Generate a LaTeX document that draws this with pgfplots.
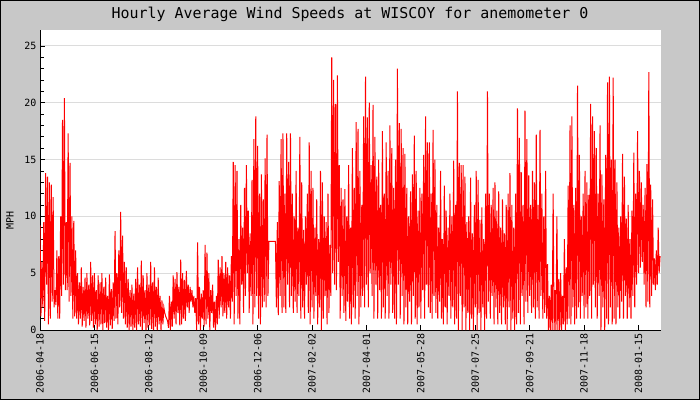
\documentclass[border=0pt]{standalone}
\usepackage{pgfplots}
\usepackage{pgfplotstable}
\usepackage{fontspec}
\setmainfont{DejaVu Sans Mono}
\pgfplotsset{compat=1.18}
\definecolor{bggray}{RGB}{200,200,200}
\definecolor{gridgray}{RGB}{220,220,220}
\pgfplotstableread[row sep=\\]{
y\\
9.2\\1.2\\6.0\\2.0\\9.5\\0.8\\13.8\\4.0\\13.5\\0.5\\
13.0\\1.0\\12.8\\2.5\\11.7\\2.0\\3.5\\2.2\\7.0\\1.0\\
6.5\\1.0\\10.0\\3.0\\18.5\\4.0\\20.4\\3.5\\9.5\\3.5\\
17.3\\2.5\\14.7\\3.0\\10.0\\1.0\\9.6\\1.2\\7.0\\1.0\\
5.0\\0.5\\4.2\\1.0\\5.5\\0.3\\3.8\\0.8\\4.6\\0.2\\
5.0\\1.0\\4.0\\0.4\\6.0\\0.8\\4.8\\0.2\\5.0\\0.5\\
3.5\\0.0\\4.8\\0.3\\4.2\\0.5\\5.0\\0.0\\3.8\\0.6\\
4.6\\0.2\\3.0\\0.0\\4.9\\0.4\\3.6\\0.1\\4.2\\0.8\\
8.7\\1.0\\5.0\\0.5\\7.0\\2.0\\10.4\\1.5\\8.3\\1.0\\
6.0\\0.5\\5.5\\0.2\\4.5\\0.0\\3.5\\0.3\\4.0\\0.0\\
3.2\\0.2\\4.5\\0.0\\5.5\\0.5\\4.0\\0.3\\6.1\\0.0\\
4.8\\0.6\\3.5\\0.0\\5.0\\0.2\\4.0\\0.4\\6.0\\0.1\\
4.2\\0.0\\5.5\\0.3\\3.8\\0.0\\4.6\\0.5\\3.0\\0.0\\
2.6\\0.5\\2.0\\1.5\\1.2\\1.0\\0.8\\0.2\\3.0\\0.0\\
2.5\\0.3\\4.8\\1.0\\4.5\\0.5\\5.1\\1.5\\3.8\\0.4\\
6.2\\0.5\\5.0\\1.0\\4.4\\0.8\\5.2\\2.0\\4.0\\1.5\\
3.8\\2.5\\3.5\\2.0\\3.0\\1.5\\2.8\\0.0\\7.7\\0.5\\
3.8\\0.0\\3.2\\1.0\\3.5\\0.3\\7.5\\0.5\\6.8\\1.0\\
5.0\\0.0\\3.5\\1.5\\4.0\\0.2\\2.5\\0.0\\3.0\\0.5\\
6.2\\1.0\\5.5\\2.0\\6.5\\1.2\\5.0\\1.5\\6.0\\1.0\\
5.5\\2.0\\4.8\\1.0\\6.5\\2.5\\14.8\\0.5\\14.5\\3.0\\
14.0\\1.0\\8.0\\0.5\\11.0\\4.0\\9.0\\1.5\\12.5\\3.0\\
14.5\\5.0\\10.5\\1.5\\8.5\\3.0\\13.2\\0.5\\16.8\\2.0\\
18.8\\3.0\\16.2\\1.0\\12.0\\0.5\\13.7\\2.0\\11.5\\2.5\\
15.1\\2.0\\17.2\\3.0\\7.8\\7.8\\7.8\\7.8\\7.8\\7.8\\
7.8\\7.8\\2.0\\9.5\\1.3\\13.1\\3.0\\16.8\\1.5\\17.3\\
2.0\\12.0\\1.5\\17.3\\4.0\\14.8\\2.0\\17.3\\3.0\\12.0\\
1.5\\10.0\\2.5\\14.0\\1.5\\9.0\\3.0\\17.0\\1.0\\13.0\\
2.0\\8.8\\1.0\\10.0\\4.0\\12.0\\1.5\\16.5\\0.5\\14.0\\
2.0\\12.5\\1.0\\9.0\\3.0\\11.5\\0.5\\8.0\\2.0\\14.0\\
0.0\\13.0\\1.0\\10.0\\3.0\\9.5\\0.5\\12.0\\1.5\\7.5\\
3.0\\24.0\\5.0\\22.0\\4.0\\19.9\\3.5\\22.4\\6.0\\14.5\\
1.0\\12.5\\3.0\\11.5\\1.5\\12.4\\0.8\\10.0\\2.5\\14.5\\
1.0\\9.0\\0.5\\16.0\\2.0\\12.5\\1.0\\18.3\\3.0\\17.7\\
0.5\\14.0\\2.0\\11.0\\3.0\\18.8\\2.0\\22.3\\4.0\\18.7\\
2.0\\20.0\\5.0\\14.5\\3.0\\19.8\\1.0\\17.0\\4.0\\13.5\\
1.0\\15.0\\3.5\\11.0\\1.0\\17.5\\2.0\\12.0\\1.0\\16.5\\
3.0\\14.0\\1.0\\18.0\\4.0\\16.0\\1.5\\12.5\\1.0\\15.0\\
0.5\\23.0\\4.0\\18.2\\1.0\\17.7\\3.0\\16.0\\0.5\\15.5\\
2.0\\12.5\\0.5\\10.0\\2.5\\12.2\\0.5\\13.7\\3.0\\17.1\\
1.0\\14.0\\0.5\\10.5\\2.0\\12.5\\1.0\\12.0\\3.5\\15.4\\
1.0\\18.8\\4.0\\16.5\\2.0\\16.5\\1.5\\12.0\\1.0\\17.6\\
3.0\\15.0\\1.5\\11.0\\1.0\\9.0\\2.5\\14.0\\1.0\\8.0\\
0.5\\12.7\\2.0\\10.5\\0.5\\9.0\\3.0\\12.0\\1.0\\10.0\\
2.0\\14.9\\0.5\\11.0\\1.0\\21.0\\0.0\\14.7\\3.0\\14.5\\
0.0\\14.5\\2.0\\13.5\\0.0\\9.5\\1.5\\10.0\\0.0\\13.4\\
1.0\\8.5\\0.0\\11.0\\2.0\\14.0\\0.0\\13.2\\1.5\\9.7\\
0.0\\10.8\\2.0\\8.0\\0.0\\12.0\\1.0\\21.0\\2.5\\12.0\\
1.0\\11.0\\3.0\\12.5\\0.5\\13.0\\2.0\\10.5\\0.5\\12.2\\
1.5\\9.0\\0.5\\11.5\\2.0\\8.5\\0.5\\11.0\\0.0\\12.0\\
2.0\\13.8\\0.0\\11.0\\1.0\\9.0\\0.0\\12.0\\0.5\\19.5\\
1.5\\16.9\\0.5\\13.9\\3.0\\11.0\\0.5\\19.3\\2.5\\16.8\\
1.5\\13.6\\3.0\\11.0\\1.5\\14.0\\2.0\\13.0\\1.0\\17.2\\
2.0\\11.0\\1.0\\17.6\\3.0\\12.0\\1.0\\10.0\\1.5\\14.0\\
1.0\\5.8\\0.0\\3.0\\0.0\\4.0\\0.0\\12.0\\0.0\\3.5\\
0.0\\10.0\\0.0\\4.5\\0.0\\5.0\\0.0\\3.0\\0.5\\8.0\\
0.0\\5.5\\0.5\\12.7\\1.0\\18.0\\0.5\\18.8\\2.0\\11.0\\
0.5\\12.5\\1.0\\21.5\\2.0\\15.4\\1.0\\10.0\\3.0\\12.0\\
1.0\\14.0\\2.0\\13.0\\1.0\\11.9\\3.0\\19.9\\1.0\\18.8\\
4.0\\17.5\\2.0\\16.0\\1.0\\12.0\\3.0\\18.0\\0.0\\13.7\\
2.0\\11.5\\0.0\\15.4\\1.0\\21.8\\0.5\\22.3\\2.0\\15.0\\
0.5\\22.2\\1.0\\15.0\\0.5\\13.0\\2.0\\9.0\\1.0\\10.0\\
2.5\\15.5\\1.0\\13.5\\3.0\\9.8\\1.0\\11.0\\2.0\\8.0\\
1.0\\10.5\\3.0\\15.6\\2.0\\12.0\\4.0\\17.5\\5.0\\14.0\\
5.5\\13.0\\6.0\\11.0\\4.0\\12.5\\2.0\\14.6\\2.5\\22.7\\
2.0\\12.8\\3.0\\11.5\\4.0\\6.3\\3.5\\7.0\\4.0\\9.0\\
5.0\\6.5\\
}\winddata
\begin{document}
\begin{tikzpicture}[x=1bp,y=1bp]
\fill[bggray] (0,0) rectangle (700,400);
\draw[black,line width=1bp] (0.5,0.5) rectangle (699.5,399.5);
\node[font=\fontsize{15}{15}\selectfont] at (350,386) {Hourly Average Wind Speeds at WISCOY for anemometer 0};
\node[rotate=90, font=\fontsize{10}{10}\selectfont] at (10,180) {MPH};
\begin{axis}[
  at={(40bp,70bp)}, anchor=south west,
  scale only axis, width=621bp, height=300bp,
  xmin=0, xmax=662, ymin=0, ymax=26.4,
  axis background/.style={fill=white},
  axis x line*=bottom, axis y line*=left,
  axis line style={black, line width=1bp},
  /pgf/number format/assume math mode=true,
  tick align=inside,
  major tick length=5bp, minor tick length=4bp,
  tick style={black, line width=0.8bp},
  ytick={0,5,10,15,20,25},
  minor y tick num=4,
  ymajorgrids,
  major grid style={gridgray, line width=1bp},
  xtick={0,58,116,174,232,290,348,406,464,522,580,638},
  xticklabels={2006-04-18,2006-06-15,2006-08-12,2006-10-09,2006-12-06,2007-02-02,2007-04-01,2007-05-28,2007-07-25,2007-09-21,2007-11-18,2008-01-15},
  xticklabel style={rotate=90, anchor=east, font=\fontsize{10}{10}\selectfont},
  yticklabel style={font=\fontsize{10}{10}\selectfont},
]
\addplot[red, line width=1bp, line join=miter] table[x expr=\coordindex, y=y]{\winddata};
\end{axis}
\end{tikzpicture}
\end{document}
